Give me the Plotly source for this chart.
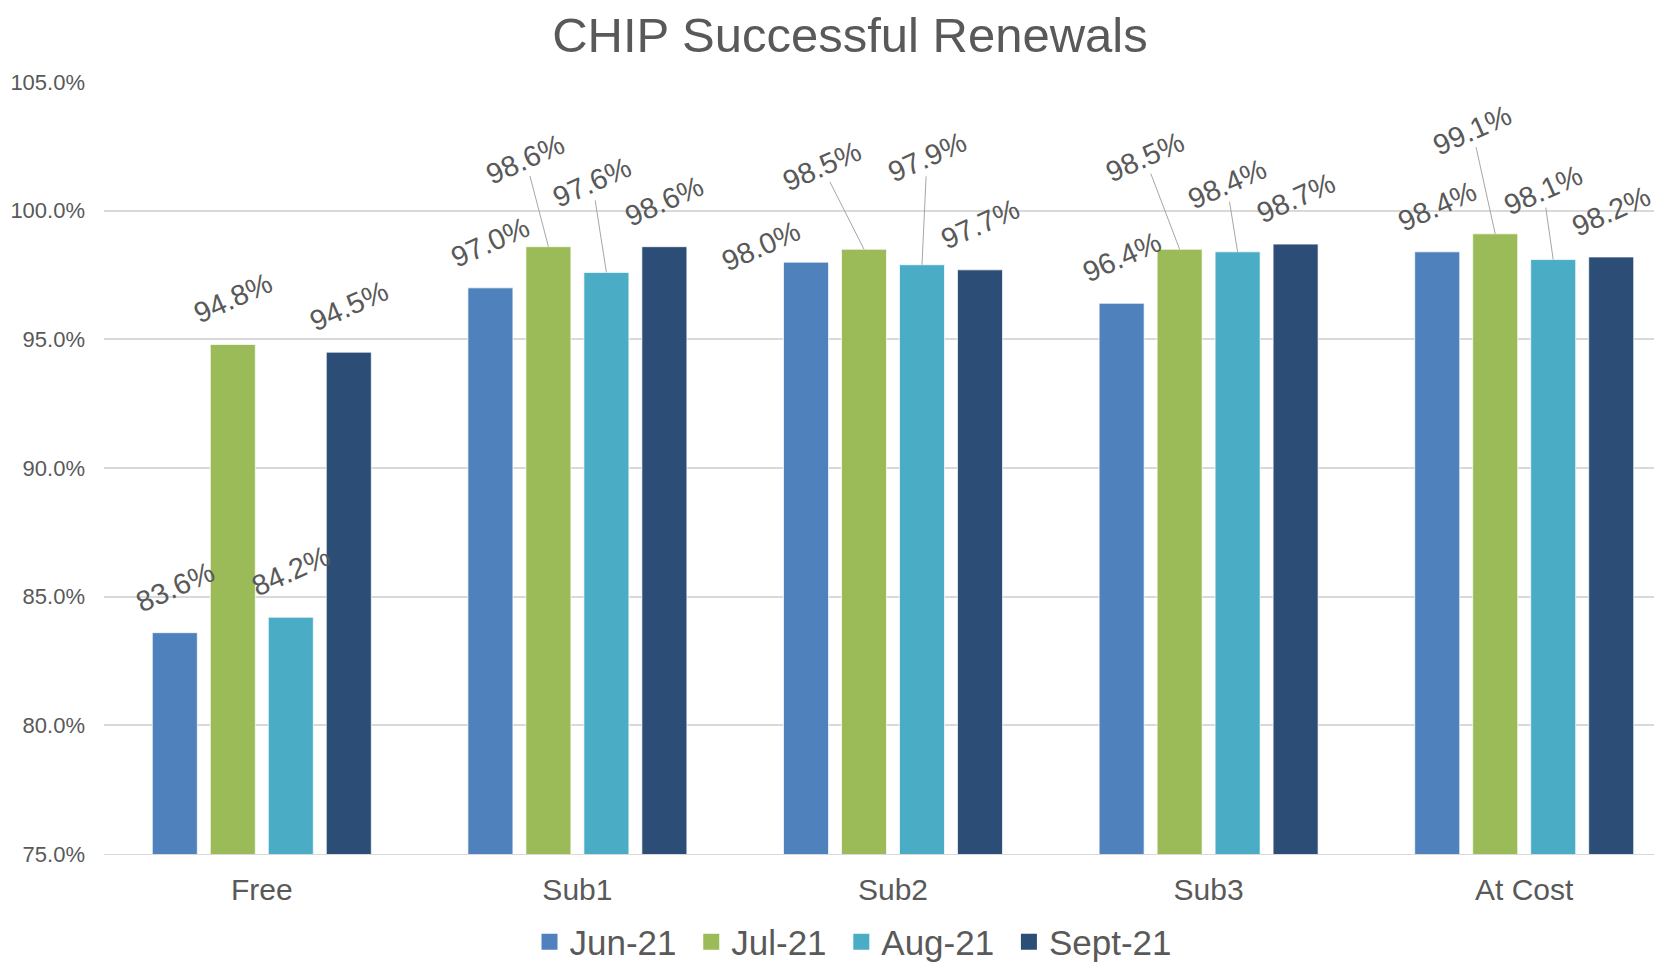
import plotly.graph_objects as go

categories = ["Free", "Sub1", "Sub2", "Sub3", "At Cost"]
series_names = ["Jun-21", "Jul-21", "Aug-21", "Sept-21"]
jun_21 = [83.6, 97.0, 98.0, 96.4, 98.4]
jul_21 = [94.8, 98.6, 98.5, 98.5, 99.1]
aug_21 = [84.2, 97.6, 97.9, 98.4, 98.1]
sept_21 = [94.5, 98.6, 97.7, 98.7, 98.2]
y_ticks = [75, 80, 85, 90, 95, 100, 105]
y_tick_labels = [f"{t:.1f}%" for t in y_ticks]

series_values = [jun_21, jul_21, aug_21, sept_21]
colors = ["#4F81BD", "#9BBB59", "#4BACC6", "#2C4D75"]

# label placement (pixel offsets of label centre from bar top), leader line flag
DEFAULT = (0, -46, False)
label_layout = {
    (1, 1): (-23, -88, True),
    (1, 2): (-14, -90, True),
    (2, 0): (-45, -16, False),
    (2, 1): (-42, -83, True),
    (2, 2): (5, -108, True),
    (3, 1): (-35, -92, True),
    (3, 2): (-11, -68, True),
    (4, 1): (-23, -104, True),
    (4, 2): (-10, -70, True),
}

FONT = "Liberation Sans, Arial, sans-serif"
GREY = "#595959"
# the page body has an 8px margin; figure is sized/positioned to compensate
W, H, OFF = 1654, 955, 8

bargap = 0.265
n_series = len(series_values)
pitch = (1 - bargap) / n_series

fig = go.Figure()
for name, vals, col in zip(series_names, series_values, colors):
    fig.add_trace(go.Bar(
        name=name, x=list(range(len(categories))), y=vals,
        marker=dict(color=col, line=dict(color="rgba(255,255,255,0.7)", width=1)),
        hoverinfo="skip", showlegend=False,
    ))
# legend entries (larger square swatches)
for name, col in zip(series_names, colors):
    fig.add_trace(go.Scatter(
        name=name + "\u00a0", x=[None], y=[None], mode="markers",
        marker=dict(symbol="square", size=16, color=col), showlegend=True,
    ))

annotations = []
for j, vals in enumerate(series_values):
    for i, v in enumerate(vals):
        ax, ay, leader = label_layout.get((i, j), DEFAULT)
        annotations.append(dict(
            x=i + (j - (n_series - 1) / 2) * pitch, y=v, xref="x", yref="y",
            text=f"{v:.1f}%", textangle=-24,
            font=dict(family=FONT, size=29, color=GREY),
            showarrow=True, ax=ax, ay=ay, axref="pixel", ayref="pixel",
            arrowhead=0, arrowwidth=1, standoff=0,
            arrowcolor="#A6A6A6" if leader else "rgba(0,0,0,0)",
        ))

fig.update_layout(
    width=W, height=H,
    margin=dict(l=104 - OFF, r=0, t=82 - OFF, b=H - (854 - OFF)),
    paper_bgcolor="white", plot_bgcolor="white",
    barmode="group", bargap=bargap, bargroupgap=0.224,
    title=dict(text="CHIP Successful Renewals", x=842 / W, xanchor="center",
               xref="container", y=1 - 27 / H, yanchor="middle",
               font=dict(family=FONT, size=49, color=GREY)),
    font=dict(family=FONT, color=GREY),
    legend=dict(orientation="h", xref="container", yref="container",
                x=850 / W, xanchor="center", y=1 - 934 / H, yanchor="middle",
                font=dict(family=FONT, size=35, color=GREY), traceorder="normal"),
    annotations=annotations,
    showlegend=True,
)
fig.update_xaxes(
    tickmode="array", tickvals=list(range(len(categories))), ticktext=categories,
    range=[-0.5, 4.5 - 20 / 315.5],
    tickfont=dict(family=FONT, size=30, color=GREY),
    showgrid=False, showline=True, linecolor="#D9D9D9", linewidth=1,
    ticks="", ticklabelstandoff=9,
)
fig.update_yaxes(
    range=[75, 105], tickmode="array", tickvals=y_ticks, ticktext=y_tick_labels,
    tickfont=dict(family=FONT, size=22, color=GREY),
    showgrid=True, gridcolor="#D9D9D9", gridwidth=1.5,
    zeroline=False, ticks="", ticklabelstandoff=18,
)

fig.write_html("out.html")
